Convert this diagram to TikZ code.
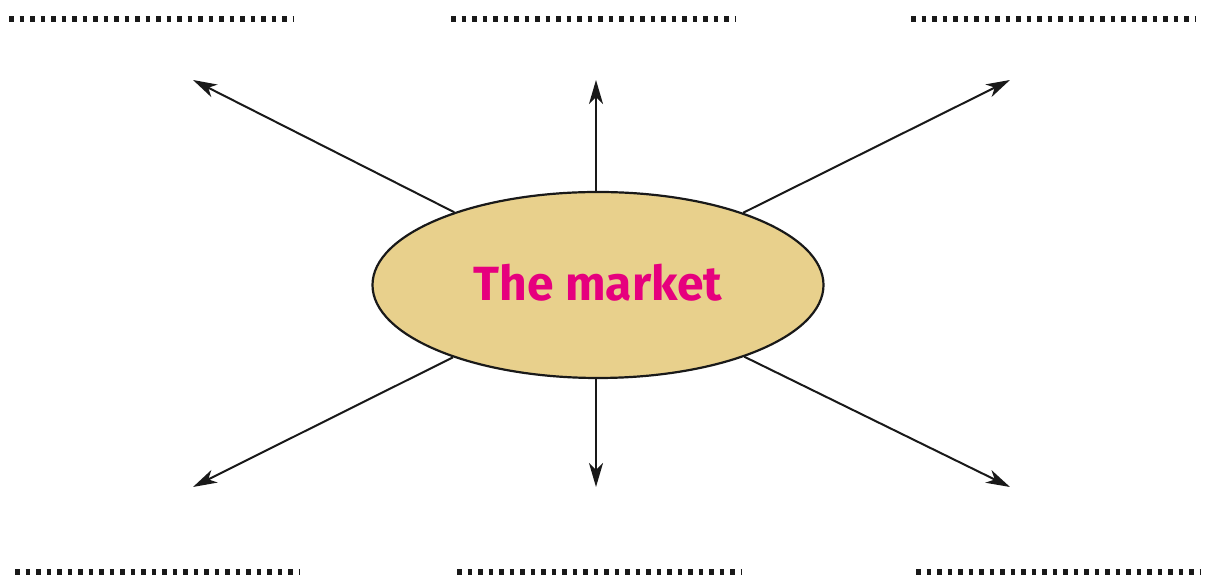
\documentclass[tikz,border=0pt]{standalone}
\usepackage{fontspec}
\setmainfont{Fira Sans}
\usetikzlibrary{shapes.geometric,arrows.meta}
\definecolor{sand}{RGB}{232,208,140}
\definecolor{pinktext}{RGB}{230,0,126}
\tikzset{
    EL/.style ={ellipse,minimum width = 225.5pt, minimum height = 93pt, inner sep=0pt, draw=black!90, line width=1.1pt, fill=sand},
    AR/.style ={-{Stealth[length=12pt,width=7pt,inset=3.5pt]}, line width=1pt, draw=black!90},
    DL/.style ={line width=2.6pt, dash pattern=on 2.4pt off 2.85pt, draw=black!90}}

\begin{document}
\begin{tikzpicture}[x=0.5pt,y=-0.5pt]
        \useasboundingbox (0,0) rectangle (1205,581);
        \node[EL] (0) at(598,285){};
        \node[text=pinktext,font=\fontsize{24}{28}\selectfont\bfseries] (t) at(598,283){The market};
        \coordinate (1) at(193,80);
        \coordinate (2) at(596,80);
        \coordinate (3) at(1010,80);
        \coordinate (4) at(193,487);
        \coordinate (5) at(596,487);
        \coordinate (6) at(1010,487);
        \draw[AR] (0) --(1);
        \draw[AR] (0.north -| 2) --(2);
        \draw[AR] (0) --(3);
        \draw[AR] (0) --(4);
        \draw[AR] (0.south -| 5) --(5);
        \draw[AR] (0) --(6);
        % blank lines
        \draw[DL] (9,19) --(293,19);
        \draw[DL] (451,19) --(736,19);
        \draw[DL] (911,19) --(1196,19);
        \draw[DL] (15,572) --(299,572);
        \draw[DL] (457,572) --(741,572);
        \draw[DL] (916,572) --(1201,572);
    \end{tikzpicture}
\end{document}
